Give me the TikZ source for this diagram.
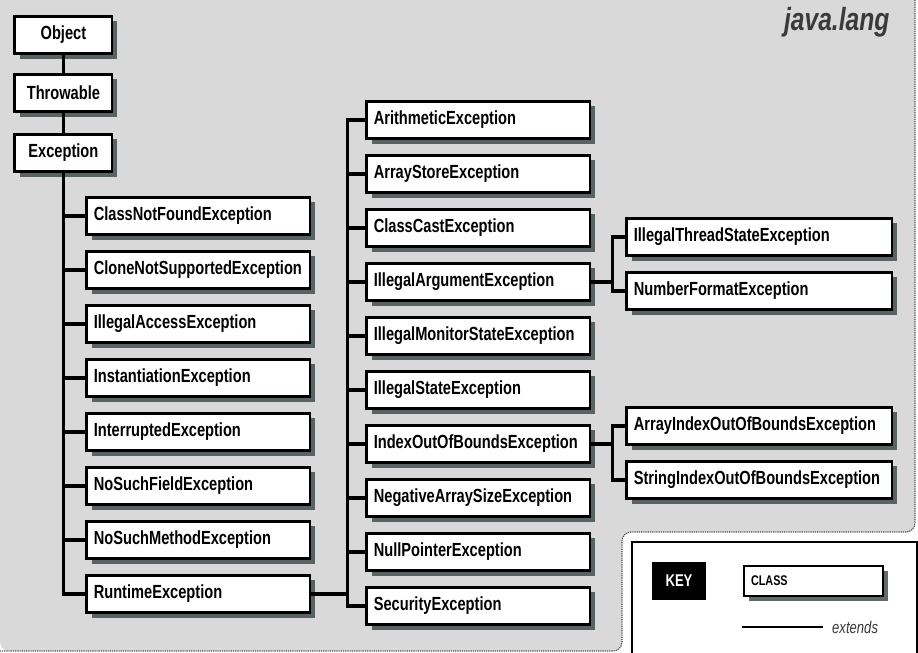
\documentclass[tikz,border=0pt]{standalone}
\usepackage{fontspec}
\newfontfamily\boxfont[FakeStretch=0.77]{Liberation Sans}
\usetikzlibrary{positioning, calc, shadows}
\definecolor{panelgray}{HTML}{D9D9D9}
\definecolor{dotgray}{HTML}{505050}
\definecolor{titlegray}{HTML}{3A3A3A}
\definecolor{shadowgray}{HTML}{3A4646}

\begin{document}
\begin{tikzpicture}[
  x=1pt, y=-1pt,
  classbox/.style={
    draw=black, line width=2.8pt, fill=white, anchor=west,
    minimum height=37.2pt, inner xsep=7pt, inner ysep=0pt, align=left,
    font=\boxfont\bfseries\fontsize{19}{22}\selectfont,
    drop shadow={shadow xshift=5pt, shadow yshift=-5pt, fill=shadowgray, opacity=.8}
  },
  topbox/.style={classbox, text width=83.2pt, align=center},
  widebox/.style={classbox, text width=209.2pt},
  longbox/.style={classbox, text width=251.2pt},
  link/.style={draw=black, line width=3.2pt},
]
\useasboundingbox (0,0) rectangle (918,653);

% Background
\fill[white] (0,0) rectangle (918,653);
\fill[panelgray] (0,0) -- (915,0) [rounded corners=9pt] -- (915,532)
  -- (622,532) -- (622,651) -- (0,651) [sharp corners] -- cycle;
\draw[dotgray, densely dotted, line width=1.2pt] (915,0) [rounded corners=9pt]
  -- (915,532) -- (622,532) -- (622,651) -- (0,651);

% Title
\node[font=\boxfont\bfseries\itshape\fontsize{32}{36}\selectfont, text=titlegray,
      anchor=north east] (pkg) at (893,4) {java.lang};

% =============================================
% Root chain
% =============================================
\node[topbox] (object) at (13.4,35) {Object};
\node[topbox] (throwable) at (13.4,93) {Throwable};
\node[topbox] (exception) at (13.4,153) {Exception};

\draw[link] (object) -- (throwable);
\draw[link] (throwable) -- (exception);

% =============================================
% Direct subclasses of Exception
% =============================================
\node[widebox] (classnotfound) at (85.4,216) {ClassNotFoundException};
\node[widebox] (clonenotsup) at (85.4,270) {CloneNotSupportedException};
\node[widebox] (illaccess) at (85.4,324) {IllegalAccessException};
\node[widebox] (instantiation) at (85.4,378) {InstantiationException};
\node[widebox] (interrupted) at (85.4,432) {InterruptedException};
\node[widebox] (nosuchfield) at (85.4,486) {NoSuchFieldException};
\node[widebox] (nosuchmethod) at (85.4,540) {NoSuchMethodException};
\node[widebox] (runtime) at (85.4,594) {RuntimeException};

\draw[link] (exception.south) |- (classnotfound.west)
  (exception.south) |- (clonenotsup.west)
  (exception.south) |- (illaccess.west)
  (exception.south) |- (instantiation.west)
  (exception.south) |- (interrupted.west)
  (exception.south) |- (nosuchfield.west)
  (exception.south) |- (nosuchmethod.west)
  (exception.south) |- (runtime.west);

% =============================================
% Subclasses of RuntimeException
% =============================================
\node[widebox] (arith) at (365.4,120) {ArithmeticException};
\node[widebox] (arraystore) at (365.4,174) {ArrayStoreException};
\node[widebox] (classcast) at (365.4,228) {ClassCastException};
\node[widebox] (illarg) at (365.4,282) {IllegalArgumentException};
\node[widebox] (illmonitor) at (365.4,336) {IllegalMonitorStateException};
\node[widebox] (illstate) at (365.4,390) {IllegalStateException};
\node[widebox] (indexoob) at (365.4,444) {IndexOutOfBoundsException};
\node[widebox] (negsize) at (365.4,498) {NegativeArraySizeException};
\node[widebox] (nullptr) at (365.4,552) {NullPointerException};
\node[widebox] (security) at (365.4,606) {SecurityException};

\coordinate (rtfork) at ($(arith.west |- runtime.east)+(-18,0)$);
\draw[link] (runtime.east) -- (rtfork)
  (rtfork) |- (arith.west)
  (rtfork) |- (arraystore.west)
  (rtfork) |- (classcast.west)
  (rtfork) |- (illarg.west)
  (rtfork) |- (illmonitor.west)
  (rtfork) |- (illstate.west)
  (rtfork) |- (indexoob.west)
  (rtfork) |- (negsize.west)
  (rtfork) |- (nullptr.west)
  (rtfork) |- (security.west);

% =============================================
% Third level
% =============================================
\node[longbox] (illthread) at (625.4,237) {IllegalThreadStateException};
\node[longbox] (numformat) at (625.4,291) {NumberFormatException};
\node[longbox] (arrayindex) at (625.4,426) {ArrayIndexOutOfBoundsException};
\node[longbox] (stringindex) at (625.4,480) {StringIndexOutOfBoundsException};

\coordinate (argfork) at ($(illthread.west |- illarg.east)+(-13,0)$);
\draw[link] (illarg.east) -- (argfork)
  (argfork) |- (illthread.west)
  (argfork) |- (numformat.west);

\coordinate (ioobfork) at ($(arrayindex.west |- indexoob.east)+(-13,0)$);
\draw[link] (indexoob.east) -- (ioobfork)
  (ioobfork) |- (arrayindex.west)
  (ioobfork) |- (stringindex.west);

% =============================================
% Key
% =============================================
\draw[black, line width=1.4pt, fill=white] (632,542) rectangle (917,660);
\node[fill=black, text=white, font=\boxfont\bfseries\fontsize{17}{20}\selectfont,
      minimum width=54pt, minimum height=38pt] (key) at (679,581) {KEY};
\node[classbox, line width=2.2pt, minimum height=30pt, text width=124.8pt,
      font=\boxfont\bfseries\fontsize{14}{16}\selectfont] (keyclass) at (743,581) {CLASS};
\coordinate (extstart) at (742,627);
\coordinate (extstop) at (823,627);
\draw[link, line width=2.4pt] (extstart) -- (extstop);
\node[right=9pt of extstop, inner sep=0pt, text=titlegray,
      font=\boxfont\itshape\fontsize{17}{20}\selectfont] (extlabel) {extends};

\end{tikzpicture}
\end{document}
